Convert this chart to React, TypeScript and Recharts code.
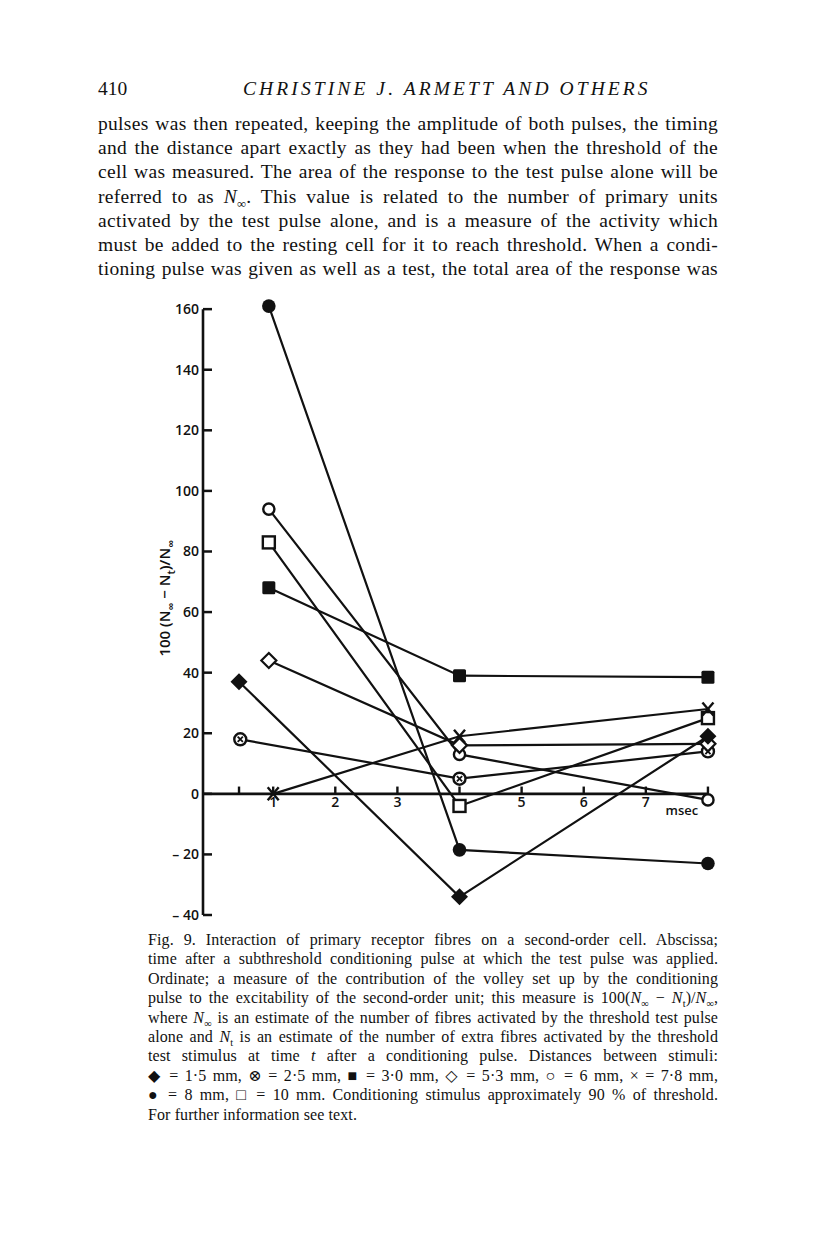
import React from 'react';
import { LineChart, Line, XAxis, YAxis, ReferenceLine, ReferenceDot } from 'recharts';

// time after conditioning pulse (msec) and 100(N∞ − Nt)/N∞ for each stimulus distance
const diamondFilledX = [0.45, 4, 8];
const diamondFilledY = [37, -34, 19];
const crossCircleX = [0.47, 4, 8];
const crossCircleY = [18, 5, 14];
const squareFilledX = [0.93, 4, 8];
const squareFilledY = [68, 39, 38.5];
const diamondOpenX = [0.93, 4, 8];
const diamondOpenY = [44, 16, 16.5];
const circleOpenX = [0.93, 4, 8];
const circleOpenY = [94, 13, -2];
const crossX = [1, 4, 8];
const crossY = [0, 19, 28];
const circleFilledX = [0.93, 4, 8];
const circleFilledY = [161, -18.5, -23];
const squareOpenX = [0.93, 4, 8];
const squareOpenY = [83, -4, 25];

const yTicks = [-40, -20, 0, 20, 40, 60, 80, 100, 120, 140, 160];
const xTickValues = [0.45, 1, 2, 3, 4, 5, 6, 7, 8];
const xTickLabels = ['', '1', '2', '3', '', '5', '6', '7', ''];

const xMin = -0.13;
const xMax = 8.5;
const yMin = -40;
const yMax = 165;

const ink = '#111';
const axisFont = "'Open Sans', 'DejaVu Sans', sans-serif";
const textFont = "'Liberation Serif', 'DejaVu Serif', serif";

const paragraphLines: React.ReactNode[] = [
  'pulses was then repeated, keeping the amplitude of both pulses, the timing',
  'and the distance apart exactly as they had been when the threshold of the',
  'cell was measured. The area of the response to the test pulse alone will be',
  <>referred to as <i>N</i><sub style={{ fontSize: '0.65em' }}>∞</sub>. This value is related to the number of primary units</>,
  'activated by the test pulse alone, and is a measure of the activity which',
  'must be added to the resting cell for it to reach threshold. When a condi-',
  'tioning pulse was given as well as a test, the total area of the response was',
];

const Ninf = () => (
  <>
    <i>N</i>
    <sub style={{ fontSize: '0.65em' }}>∞</sub>
  </>
);

const captionLines: React.ReactNode[] = [
  'Fig. 9. Interaction of primary receptor fibres on a second-order cell. Abscissa;',
  'time after a subthreshold conditioning pulse at which the test pulse was applied.',
  'Ordinate; a measure of the contribution of the volley set up by the conditioning',
  <>pulse to the excitability of the second-order unit; this measure is 100(<Ninf /> − <i>N</i><sub style={{ fontSize: '0.65em' }}>t</sub>)/<Ninf />,</>,
  <>where <Ninf /> is an estimate of the number of fibres activated by the threshold test pulse</>,
  <>alone and <i>N</i><sub style={{ fontSize: '0.65em' }}>t</sub> is an estimate of the number of extra fibres activated by the threshold</>,
  <>test stimulus at time <i>t</i> after a conditioning pulse. Distances between stimuli:</>,
  '◆ = 1·5 mm, ⊗ = 2·5 mm, ■ = 3·0 mm, ◇ = 5·3 mm, ○ = 6 mm, × = 7·8 mm,',
  '● = 8 mm, □ = 10 mm. Conditioning stimulus approximately 90 % of threshold.',
];

type MarkerKind =
  | 'diamondFilled'
  | 'crossCircle'
  | 'squareFilled'
  | 'diamondOpen'
  | 'circleOpen'
  | 'cross'
  | 'circleFilled'
  | 'squareOpen';

const toPoints = (xs: number[], ys: number[]) => xs.map((x, i) => ({ x, y: ys[i] }));

const series: { kind: MarkerKind; data: { x: number; y: number }[] }[] = [
  { kind: 'squareFilled', data: toPoints(squareFilledX, squareFilledY) },
  { kind: 'circleFilled', data: toPoints(circleFilledX, circleFilledY) },
  { kind: 'squareOpen', data: toPoints(squareOpenX, squareOpenY) },
  { kind: 'circleOpen', data: toPoints(circleOpenX, circleOpenY) },
  { kind: 'crossCircle', data: toPoints(crossCircleX, crossCircleY) },
  { kind: 'cross', data: toPoints(crossX, crossY) },
  { kind: 'diamondOpen', data: toPoints(diamondOpenX, diamondOpenY) },
  { kind: 'diamondFilled', data: toPoints(diamondFilledX, diamondFilledY) },
];

const renderMarker = (kind: MarkerKind) => (props: any) => {
  const { cx, cy, index } = props;
  if (cx == null || cy == null) return <g key={`${kind}-${index}`} />;
  const key = `${kind}-${index}`;
  switch (kind) {
    case 'circleFilled':
      return <circle key={key} cx={cx} cy={cy} r={6.8} fill={ink} />;
    case 'circleOpen':
      return <circle key={key} cx={cx} cy={cy} r={5.6} fill="#fff" stroke={ink} strokeWidth={2.4} />;
    case 'squareFilled':
      return <rect key={key} x={cx - 6.5} y={cy - 6.5} width={13} height={13} rx={1.5} fill={ink} />;
    case 'squareOpen':
      return (
        <rect key={key} x={cx - 6} y={cy - 6} width={12} height={12} fill="#fff" stroke={ink} strokeWidth={2.4} />
      );
    case 'diamondFilled':
      return (
        <polygon
          key={key}
          points={`${cx},${cy - 8.5} ${cx + 8.5},${cy} ${cx},${cy + 8.5} ${cx - 8.5},${cy}`}
          fill={ink}
        />
      );
    case 'diamondOpen':
      return (
        <polygon
          key={key}
          points={`${cx},${cy - 7.5} ${cx + 7.5},${cy} ${cx},${cy + 7.5} ${cx - 7.5},${cy}`}
          fill="#fff"
          stroke={ink}
          strokeWidth={2.2}
        />
      );
    case 'crossCircle':
      return (
        <g key={key}>
          <circle cx={cx} cy={cy} r={6} fill="#fff" stroke={ink} strokeWidth={2.4} />
          <line x1={cx - 2.6} y1={cy - 2.6} x2={cx + 2.6} y2={cy + 2.6} stroke={ink} strokeWidth={1.8} />
          <line x1={cx - 2.6} y1={cy + 2.6} x2={cx + 2.6} y2={cy - 2.6} stroke={ink} strokeWidth={1.8} />
        </g>
      );
    case 'cross':
      return (
        <g key={key}>
          <line x1={cx - 5.5} y1={cy - 6.5} x2={cx + 5.5} y2={cy + 6.5} stroke={ink} strokeWidth={2.4} />
          <line x1={cx - 5.5} y1={cy + 6.5} x2={cx + 5.5} y2={cy - 6.5} stroke={ink} strokeWidth={2.4} />
        </g>
      );
    default:
      return <g key={key} />;
  }
};

const YTick = (props: any) => {
  const { x, y, payload } = props;
  const v = payload.value as number;
  const label = v < 0 ? `– ${Math.abs(v)}` : `${v}`;
  return (
    <g>
      <line x1={x} y1={y} x2={x + 9} y2={y} stroke={ink} strokeWidth={2.5} />
      <text
        x={x - 4}
        y={y}
        dy="0.35em"
        textAnchor="end"
        fill={ink}
        fontFamily={axisFont}
        fontWeight={600}
        fontSize={14}
      >
        {label}
      </text>
    </g>
  );
};

const YLabel = (props: any) => {
  const { viewBox } = props;
  const cx = viewBox.x + 27;
  const cy = viewBox.y + viewBox.height * 0.49;
  return (
    <text
      x={cx}
      y={cy}
      transform={`rotate(-90, ${cx}, ${cy})`}
      textAnchor="middle"
      fill={ink}
      fontFamily={axisFont}
      fontWeight={600}
      fontSize={15}
    >
      <tspan>100 (N</tspan>
      <tspan dy={5} fontSize={11}>∞</tspan>
      <tspan dy={-5}> − N</tspan>
      <tspan dy={5} fontSize={11}>t</tspan>
      <tspan dy={-5}>)/N</tspan>
      <tspan dy={5} fontSize={11}>∞</tspan>
    </text>
  );
};

const rowStyle = (
  top: number,
  left: number,
  width: number,
  size: number,
  lh: number,
  justify: boolean,
  spacing = 0,
): React.CSSProperties => ({
  position: 'absolute',
  top,
  left,
  width,
  height: lh,
  lineHeight: `${lh}px`,
  fontFamily: textFont,
  fontSize: size,
  letterSpacing: spacing,
  color: ink,
  whiteSpace: 'nowrap',
  textAlign: justify ? 'justify' : 'left',
  textAlignLast: justify ? 'justify' : 'left',
});

export default function App() {
  return (
    <div style={{ position: 'absolute', left: 0, top: 0, width: 816, height: 1238, background: '#fff' }}>
      <div style={rowStyle(77, 98, 40, 19.5, 24, false)}>410</div>
      <div
        style={{
          ...rowStyle(77, 243, 412, 19.5, 24, false, 3.1),
          fontStyle: 'italic',
        }}
      >
        CHRISTINE J. ARMETT AND OTHERS
      </div>
      {paragraphLines.map((line, i) => (
        <div key={i} style={rowStyle(112 + i * 24.2, 98, 620, 19.5, 24, true, 0.3)}>
          {line}
        </div>
      ))}

      <div style={{ position: 'absolute', left: 100, top: 280 }}>
        <LineChart width={680} height={660} margin={{ top: 14, right: 41, bottom: 25, left: 43 }}>
          <XAxis type="number" dataKey="x" domain={[xMin, xMax]} hide allowDataOverflow />
          <YAxis
            type="number"
            dataKey="y"
            domain={[yMin, yMax]}
            ticks={yTicks}
            interval={0}
            width={60}
            axisLine={false}
            tickLine={false}
            tickSize={0}
            tickMargin={0}
            tick={<YTick />}
            allowDataOverflow
            label={{ content: <YLabel /> }}
          />
          {/* axes drawn through the scales */}
          <ReferenceLine
            segment={[
              { x: xMin, y: -40 },
              { x: xMin, y: 160 },
            ]}
            stroke={ink}
            strokeWidth={2.6}
          />
          <ReferenceLine
            segment={[
              { x: xMin, y: 0 },
              { x: 8, y: 0 },
            ]}
            stroke={ink}
            strokeWidth={2.6}
          />
          {xTickValues.map((t, i) => (
            <ReferenceLine
              key={`xt-${t}`}
              segment={[
                { x: t, y: 0 },
                { x: t, y: 2.4 },
              ]}
              stroke={ink}
              strokeWidth={2.4}
              label={
                xTickLabels[i]
                  ? {
                      value: xTickLabels[i],
                      position: 'bottom',
                      offset: 3,
                      fill: ink,
                      fontSize: 14,
                      fontWeight: 600,
                      fontFamily: axisFont,
                    }
                  : undefined
              }
            />
          ))}
          <ReferenceDot
            x={7.58}
            y={-5.6}
            r={0}
            fill="none"
            stroke="none"
            label={{ value: 'msec', position: 'center', fill: ink, fontSize: 13, fontWeight: 600, fontFamily: axisFont }}
          />
          {series.map((s) => (
            <Line
              key={s.kind}
              data={s.data}
              dataKey="y"
              type="linear"
              stroke={ink}
              strokeWidth={2.2}
              dot={renderMarker(s.kind)}
              activeDot={false}
              isAnimationActive={false}
            />
          ))}
        </LineChart>
      </div>

      {captionLines.map((line, i) => (
        <div key={i} style={rowStyle(930 + i * 19.4, 148, 570, 16, 19, true, 0.1)}>
          {line}
        </div>
      ))}
      <div style={rowStyle(930 + 9 * 19.4, 148, 570, 16, 19, false, 0.1)}>For further information see text.</div>
    </div>
  );
}
